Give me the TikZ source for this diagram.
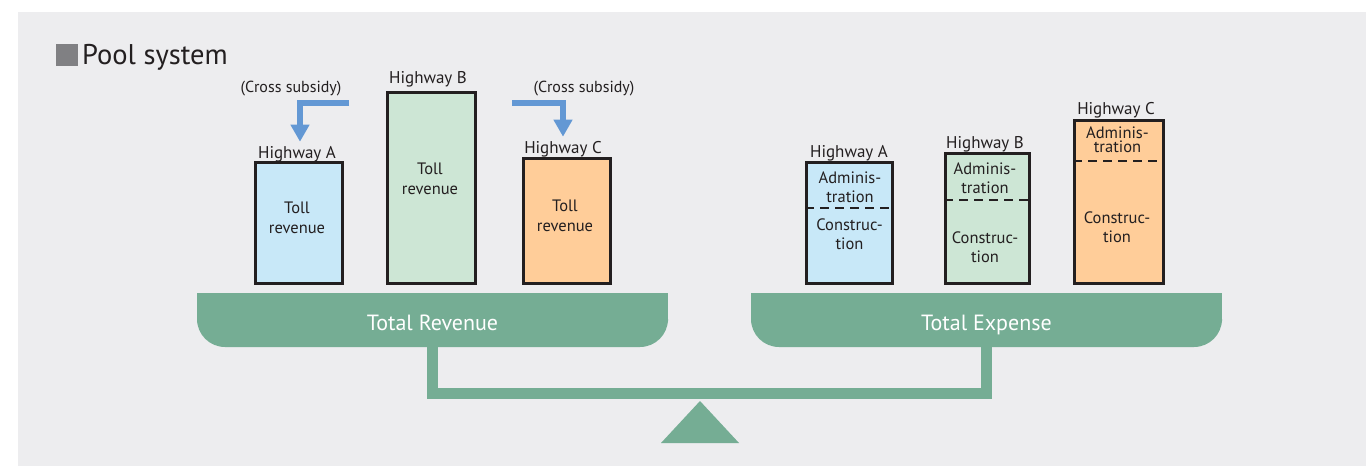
\documentclass[tikz,border=0pt]{standalone}
\usepackage{fontspec}
\setmainfont{PT Sans}
\usetikzlibrary{arrows.meta}
\definecolor{bgcol}{HTML}{EDEDEF}
\definecolor{inkcol}{HTML}{231F20}
\definecolor{markcol}{HTML}{808083}
\definecolor{pancol}{HTML}{75AD94}
\definecolor{arrcol}{HTML}{6398D4}
\definecolor{fillA}{HTML}{C8E8F8}
\definecolor{fillB}{HTML}{CDE6D5}
\definecolor{fillC}{HTML}{FFCD99}

\begin{document}
\begin{tikzpicture}[x=1pt,y=-1pt,
    hwbox/.style={draw=inkcol,line width=2.8pt,anchor=south west,inner sep=0pt},
    hwlabel/.style={anchor=base,inner sep=0pt,text=inkcol,font=\fontsize{17}{20}\selectfont},
    sublabel/.style={anchor=base,inner sep=0pt,text=inkcol,font=\fontsize{16}{20}\selectfont},
    boxtext/.style={align=center,inner sep=0pt,text=inkcol,font=\fontsize{16.5}{19.5}\selectfont},
    subsidy/.style={draw=arrcol,line width=6pt,line join=miter,shorten >=4pt,
      -{Triangle[width=18pt,length=17pt]}},
    divider/.style={draw=inkcol,line width=1.3pt,dash pattern=on 9pt off 6pt},
    pantext/.style={anchor=base,inner sep=0pt,text=white,font=\fontsize{22}{26}\selectfont},
    beam/.style={draw=pancol,line width=11pt,line join=miter}]

  \useasboundingbox (0,0) rectangle (1366,466);
  \fill[bgcol] (18,12) rectangle (1366,466);

  % title
  \fill[markcol] (56,44) rectangle (78,66);
  \node[anchor=base west,inner sep=0pt,text=inkcol,font=\fontsize{28.5}{32}\selectfont] (title) at (82,64) {Pool system};

  % revenue side
  \node[hwbox,fill=fillA,minimum width=87pt,minimum height=121pt] (revA) at (254,285) {};
  \node[hwbox,fill=fillB,minimum width=88pt,minimum height=191pt] (revB) at (386,285) {};
  \node[hwbox,fill=fillC,minimum width=87pt,minimum height=125pt] (revC) at (522,285) {};

  \node[hwlabel] (labRevA) at (297,158) {Highway A};
  \node[hwlabel] (labRevB) at (428,83) {Highway B};
  \node[hwlabel] (labRevC) at (563,153) {Highway C};

  \node[boxtext] (tollA) at (297,218) {Toll\\revenue};
  \node[boxtext] (tollB) at (430,179) {Toll\\revenue};
  \node[boxtext] (tollC) at (565,216) {Toll\\revenue};

  \node[sublabel] (subLabA) at (291,92) {(Cross subsidy)};
  \node[sublabel] (subLabC) at (584,92) {(Cross subsidy)};

  \coordinate (subA) at (349,103);
  \coordinate (subC) at (512,103);
  \draw[subsidy] (subA) -| ([xshift=3pt]labRevA.north);
  \draw[subsidy] (subC) -| (labRevC.north);

  % expense side
  \node[hwbox,fill=fillA,minimum width=86pt,minimum height=121pt] (expA) at (805,285) {};
  \node[hwbox,fill=fillB,minimum width=84pt,minimum height=130pt] (expB) at (944,285) {};
  \node[hwbox,fill=fillC,minimum width=89pt,minimum height=163pt] (expC) at (1073,285) {};

  \draw[divider] (expA.west |- 0,208) -- (expA.east |- 0,208);
  \draw[divider] (expB.west |- 0,200) -- (expB.east |- 0,200);
  \draw[divider] (expC.west |- 0,161) -- (expC.east |- 0,161);

  \node[hwlabel] (labExpA) at (849,157) {Highway A};
  \node[hwlabel] (labExpB) at (985,148) {Highway B};
  \node[hwlabel] (labExpC) at (1116,114) {Highway C};

  \node[boxtext] (admA) at (850,187) {Adminis-\\tration};
  \node[boxtext] (conA) at (849.5,234) {Construc-\\tion};
  \node[boxtext] (admB) at (985,178) {Adminis-\\tration};
  \node[boxtext] (conB) at (985,247) {Construc-\\tion};
  \node[boxtext,font=\fontsize{16.5}{14}\selectfont] (admC) at (1117.5,140) {Adminis-\\tration};
  \node[boxtext] (conC) at (1117,227) {Construc-\\tion};

  % balance
  \fill[pancol,rounded corners=28pt] (197,293) rectangle (668,347);
  \fill[pancol] (197,293) rectangle (668,320);
  \fill[pancol,rounded corners=28pt] (751,293) rectangle (1222,347);
  \fill[pancol] (751,293) rectangle (1222,320);
  \node[pantext] (revTotal) at (432.5,330) {Total Revenue};
  \node[pantext] (expTotal) at (986.5,330) {Total Expense};

  \draw[beam] (432.5,347) -- (432.5,393.5) -- (986.5,393.5) -- (986.5,347);
  \fill[pancol] (661,443) -- (700,401) -- (739,443) -- cycle;
\end{tikzpicture}
\end{document}
